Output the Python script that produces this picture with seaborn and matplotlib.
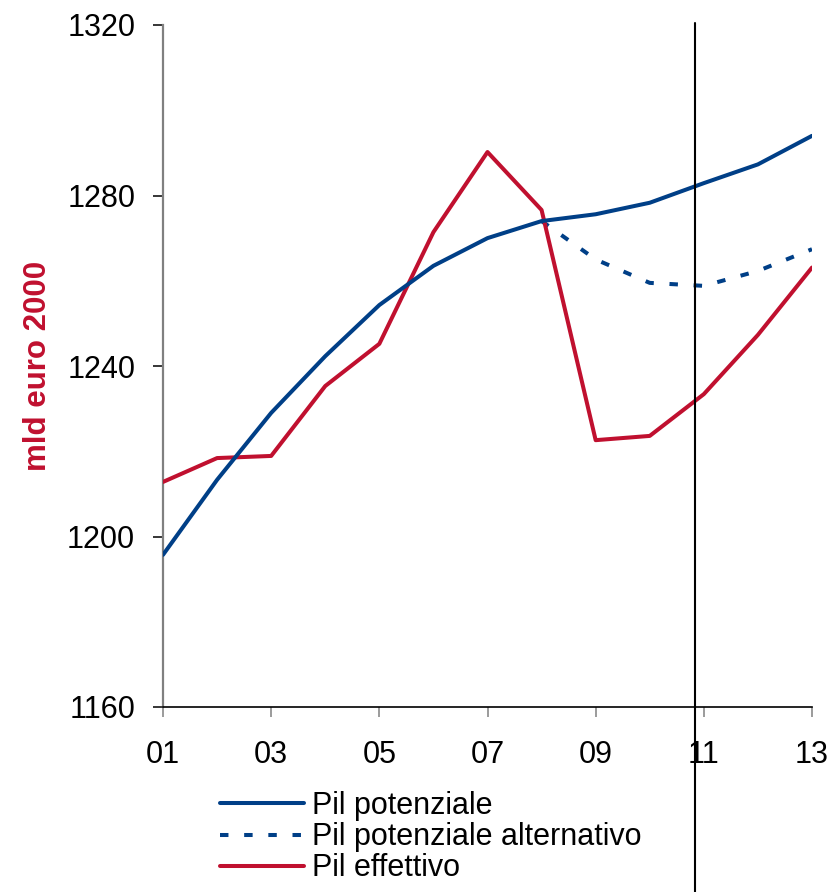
import matplotlib
matplotlib.use("Agg")
import matplotlib.pyplot as plt
import seaborn as sns
import pandas as pd

# dati (mld euro 2000)
years = list(range(1, 14))
pil_potenziale = [1195.7, 1213.3, 1229.0, 1242.3, 1254.3, 1263.5, 1270.0,
                  1274.0, 1275.6, 1278.3, 1282.9, 1287.3, 1294.0]
years_alt = list(range(8, 14))
pil_pot_alternativo = [1274.0, 1265.0, 1259.5, 1258.8, 1262.3, 1267.4]
pil_effettivo = [1212.8, 1218.4, 1218.9, 1235.3, 1245.2, 1271.4, 1290.2,
                 1276.6, 1222.6, 1223.6, 1233.4, 1247.3, 1263.1]
xtick_years = [1, 3, 5, 7, 9, 11, 13]
xtick_labels = ["01", "03", "05", "07", "09", "11", "13"]
yticks = [1160, 1200, 1240, 1280, 1320]
vline_x = 10.84

BLUE = "#003F87"
RED = "#C0102F"

sns.set_style("white")
plt.rcParams['font.family'] = ['Liberation Sans', 'DejaVu Sans']
plt.rcParams['text.color'] = 'black'

fig = plt.figure(figsize=(8.34, 8.92), dpi=100)
ax = fig.add_axes([163/834, 1 - 707/892, 649/834, 682/892])

df_pot = pd.DataFrame({"anno": years, "valore": pil_potenziale})
df_alt = pd.DataFrame({"anno": years_alt, "valore": pil_pot_alternativo})
df_eff = pd.DataFrame({"anno": years, "valore": pil_effettivo})

lw = 2.9
sns.lineplot(data=df_eff, x="anno", y="valore", color=RED, linewidth=lw,
             label="Pil effettivo", ax=ax, zorder=3)
sns.lineplot(data=df_alt, x="anno", y="valore", color=BLUE, linewidth=lw,
             linestyle=(0, (2.1, 3.9)), label="Pil potenziale alternativo",
             ax=ax, zorder=2)
sns.lineplot(data=df_pot, x="anno", y="valore", color=BLUE, linewidth=lw,
             label="Pil potenziale", ax=ax, zorder=4)

ax.set_xlim(1, 13)
ax.set_ylim(1160, 1320)
ax.set_xticks(xtick_years)
ax.set_xticklabels(xtick_labels)
ax.set_yticks(yticks)

sns.despine(ax=ax)
ax.spines["left"].set_color("#808080")
ax.spines["left"].set_linewidth(1.6)
ax.spines["bottom"].set_color("black")
ax.spines["bottom"].set_linewidth(1.2)
ax.tick_params(axis="y", direction="out", length=7, width=1.1, color="black",
               labelsize=22, labelcolor="black", pad=13, left=True)
ax.tick_params(axis="x", direction="out", length=7, width=1.1, color="#808080",
               labelsize=22, labelcolor="black", pad=17, bottom=True)

ax.set_xlabel("")
ax.set_ylabel("mld euro 2000", color=RED, fontsize=22.5, fontweight="bold",
              labelpad=10)

# linea verticale (anche sopra la legenda)
ax.plot([vline_x, vline_x], [1.003, -0.31], color="black", linewidth=1.5,
        transform=ax.get_xaxis_transform(), clip_on=False, zorder=5)

handles, labels = ax.get_legend_handles_labels()
order = [2, 1, 0]
leg = ax.legend([handles[i] for i in order], [labels[i] for i in order],
                loc="upper left", bbox_to_anchor=(220/834, 1 - 791/892),
                bbox_transform=fig.transFigure, frameon=False,
                fontsize=22, handlelength=2.75, handletextpad=0.27,
                labelspacing=0.04, borderpad=0, borderaxespad=0)
for t in leg.get_texts():
    t.set_color("black")

fig.savefig("out.png", dpi=100)
